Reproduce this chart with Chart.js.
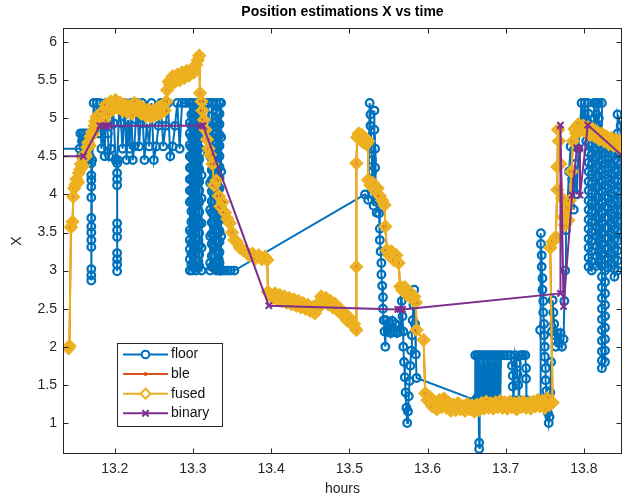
<!DOCTYPE html>
<html>
<head>
<meta charset="utf-8">
<script src="https://cdn.jsdelivr.net/npm/chart.js@4.4.1/dist/chart.umd.min.js"></script>
<style>
  html, body { margin: 0; padding: 0; background: #fff; }
  #wrap { width: 623px; height: 499px; }
</style>
</head>
<body>
<div id="wrap"><canvas id="chart" width="623" height="499"></canvas></div>
<script>
// values (hours, X)
const floorHours = [
  13.100, 13.155, 13.156, 13.157, 13.158, 13.159, 13.160, 13.161, 13.162, 13.163,
  13.164, 13.165, 13.166, 13.167, 13.168, 13.169, 13.170, 13.170, 13.170, 13.170,
  13.170, 13.170, 13.170, 13.170, 13.170, 13.170, 13.170, 13.170, 13.170, 13.171,
  13.173, 13.175, 13.177, 13.179, 13.181, 13.183, 13.185, 13.187, 13.189, 13.191,
  13.193, 13.195, 13.197, 13.199, 13.201, 13.203, 13.203, 13.203, 13.203, 13.203,
  13.203, 13.203, 13.203, 13.203, 13.203, 13.203, 13.204, 13.206, 13.208, 13.210,
  13.213, 13.215, 13.217, 13.219, 13.221, 13.223, 13.225, 13.227, 13.229, 13.231,
  13.233, 13.235, 13.238, 13.241, 13.244, 13.247, 13.250, 13.253, 13.256, 13.259,
  13.262, 13.265, 13.268, 13.271, 13.274, 13.277, 13.280, 13.283, 13.286, 13.291,
  13.296, 13.296, 13.296, 13.296, 13.296, 13.296, 13.296, 13.296, 13.296, 13.296,
  13.296, 13.296, 13.296, 13.296, 13.299, 13.300, 13.302, 13.302, 13.302, 13.302,
  13.302, 13.302, 13.302, 13.302, 13.305, 13.306, 13.306, 13.306, 13.307, 13.307,
  13.307, 13.307, 13.309, 13.310, 13.310, 13.311, 13.311, 13.311, 13.311, 13.311,
  13.298, 13.298, 13.298, 13.298, 13.298, 13.298, 13.298, 13.298,
  13.298, 13.298, 13.298, 13.298, 13.298, 13.298, 13.298, 13.298,
  13.304, 13.304, 13.304, 13.304, 13.304, 13.304, 13.304, 13.304,
  13.304, 13.304, 13.304, 13.304, 13.304, 13.304, 13.304, 13.304,
  13.308, 13.308, 13.308, 13.308, 13.308, 13.308, 13.308, 13.308,
  13.308, 13.308, 13.308, 13.308, 13.308, 13.308, 13.308, 13.308,
  13.315, 13.319, 13.322, 13.322, 13.322, 13.322, 13.322, 13.322, 13.322, 13.325,
  13.326, 13.326, 13.327, 13.327, 13.327, 13.328, 13.330, 13.331, 13.331, 13.332,
  13.332, 13.333, 13.333, 13.334, 13.336, 13.336, 13.336, 13.336, 13.336, 13.336,
  13.324, 13.324, 13.324, 13.324, 13.324, 13.324, 13.324, 13.324,
  13.324, 13.324, 13.324, 13.324, 13.324, 13.324, 13.324, 13.324,
  13.330, 13.330, 13.330, 13.330, 13.330, 13.330, 13.330, 13.330,
  13.330, 13.330, 13.330, 13.330, 13.330, 13.330, 13.330, 13.330,
  13.334, 13.334, 13.334, 13.334, 13.334, 13.334, 13.334, 13.334,
  13.334, 13.334, 13.334, 13.334, 13.334, 13.334, 13.334, 13.334,
  13.335,
  13.340, 13.344, 13.348, 13.353, 13.520, 13.524, 13.526, 13.527, 13.527, 13.528,
  13.528, 13.529, 13.529, 13.530, 13.530, 13.531, 13.532, 13.532, 13.533, 13.533,
  13.534, 13.535, 13.535, 13.537, 13.538, 13.539, 13.539, 13.540, 13.541, 13.541,
  13.542, 13.543, 13.543, 13.544, 13.545, 13.546, 13.547, 13.549, 13.551, 13.553,
  13.555, 13.557, 13.559, 13.561, 13.563, 13.565, 13.566, 13.567, 13.568, 13.569,
  13.569, 13.570, 13.571, 13.572, 13.573, 13.574, 13.575, 13.576, 13.577, 13.578,
  13.579, 13.580, 13.581, 13.582, 13.583, 13.584, 13.585, 13.586, 13.661, 13.661,
  13.663, 13.664, 13.665, 13.666, 13.666, 13.667, 13.667, 13.669, 13.670, 13.672,
  13.673, 13.675, 13.676, 13.678, 13.679, 13.681, 13.682, 13.684, 13.685, 13.687,
  13.688, 13.690, 13.691, 13.693, 13.694, 13.698, 13.702, 13.706, 13.708, 13.709,
  13.709, 13.710, 13.712, 13.714, 13.715, 13.716, 13.717, 13.719, 13.722, 13.725,
  13.726, 13.726, 13.727, 13.744, 13.744, 13.745, 13.745, 13.746, 13.746, 13.747,
  13.747, 13.748, 13.748, 13.749, 13.749, 13.750, 13.750, 13.751, 13.751, 13.752,
  13.753, 13.754, 13.755, 13.756, 13.757, 13.758, 13.759, 13.760, 13.761, 13.762,
  13.763, 13.764, 13.766, 13.768, 13.770, 13.772, 13.774, 13.775, 13.776, 13.777,
  13.779, 13.781, 13.783, 13.785, 13.787, 13.789, 13.791, 13.793, 13.795, 13.797,
  13.799, 13.801, 13.803, 13.805,
  13.806, 13.806, 13.806, 13.806, 13.806, 13.806, 13.806, 13.806, 13.806,
  13.806, 13.806, 13.806, 13.806, 13.806, 13.806, 13.806, 13.806,
  13.810, 13.810, 13.810, 13.810, 13.810, 13.810, 13.810,
  13.810, 13.810, 13.810, 13.810, 13.810, 13.810, 13.810,
  13.813, 13.813, 13.813,
  13.816, 13.816, 13.816, 13.816, 13.816, 13.816, 13.816, 13.816, 13.816,
  13.816, 13.816, 13.816, 13.816, 13.816, 13.816, 13.816, 13.816,
  13.819, 13.819, 13.819, 13.819, 13.819, 13.819, 13.819,
  13.819, 13.819, 13.819, 13.819, 13.819, 13.819, 13.819,
  13.823, 13.823, 13.823, 13.823, 13.823, 13.823, 13.823, 13.823,
  13.823, 13.823, 13.823, 13.823, 13.823, 13.823, 13.823, 13.823,
  13.823, 13.823, 13.823, 13.823, 13.823, 13.823, 13.823,
  13.827, 13.827, 13.827, 13.827, 13.827, 13.827, 13.827,
  13.827, 13.827, 13.827, 13.827, 13.827, 13.827, 13.827,
  13.827, 13.827, 13.827, 13.827, 13.827, 13.827, 13.827,
  13.831, 13.831, 13.831, 13.831, 13.831, 13.831, 13.831,
  13.831, 13.831, 13.831, 13.831, 13.831, 13.831,
  13.835, 13.835, 13.835, 13.835, 13.835, 13.835, 13.835,
  13.835, 13.835, 13.835, 13.835, 13.835, 13.835,
  13.839, 13.839, 13.839, 13.839, 13.839, 13.839, 13.839,
  13.839, 13.839, 13.839, 13.839, 13.839, 13.839, 13.839,
  13.843, 13.843, 13.843, 13.843, 13.843, 13.843, 13.843, 13.843,
  13.843, 13.843, 13.843, 13.843, 13.843, 13.843, 13.843,
  13.847, 13.847, 13.847, 13.847, 13.847, 13.847, 13.847, 13.847, 13.847, 13.847,
  13.852
];
const floorX = [
  4.60, 4.60, 4.80, 4.50, 4.70, 4.80, 4.45, 4.60, 4.80, 4.50,
  4.70, 4.45, 4.80, 4.60, 4.50, 4.80, 4.41, 4.25, 4.19, 4.10,
  3.96, 3.69, 3.58, 3.50, 3.40, 3.31, 3.02, 2.94, 2.87, 4.45,
  5.20, 4.90, 5.20, 4.80, 5.20, 4.60, 4.93, 4.50, 5.20, 4.80,
  4.50, 4.60, 5.20, 4.93, 4.45, 4.41, 4.28, 4.20, 4.12, 3.62,
  3.53, 3.44, 3.23, 3.15, 3.08, 2.99, 4.45, 5.20, 4.93, 4.60,
  5.20, 4.45, 4.98, 4.60, 5.20, 4.45, 4.63, 4.98, 5.20, 4.63,
  4.93, 5.20, 4.45, 4.93, 4.63, 5.20, 4.45, 4.63, 4.90, 5.20,
  4.63, 4.90, 5.20, 4.50, 4.63, 4.90, 5.20, 4.60, 5.20, 5.20,
  5.20, 4.94, 4.80, 4.65, 4.50, 4.35, 4.20, 4.05, 3.90, 3.53,
  3.40, 3.28, 3.15, 3.00, 3.00, 5.20, 4.85, 4.60, 4.35, 4.10,
  3.88, 3.55, 3.30, 3.05, 5.20, 4.70, 4.40, 4.15, 3.92, 3.65,
  3.40, 3.12, 5.20, 4.90, 4.55, 4.25, 3.95, 3.62, 3.30, 3.00,
  3.08, 3.22, 3.36, 3.50, 3.64, 3.78, 3.92, 4.06,
  4.20, 4.34, 4.48, 4.62, 4.76, 4.90, 5.05, 5.20,
  5.10, 4.96, 4.82, 4.68, 4.54, 4.40, 4.26, 4.12,
  3.98, 3.84, 3.70, 3.56, 3.42, 3.28, 3.14, 3.00,
  3.06, 3.21, 3.33, 3.49, 3.61, 3.77, 3.90, 4.05,
  4.17, 4.33, 4.46, 4.61, 4.74, 4.89, 5.02, 5.20,
  5.20, 5.20, 4.85, 4.50, 4.15, 3.80, 3.45, 3.10, 3.00, 5.20,
  4.70, 4.35, 4.00, 3.65, 3.30, 3.02, 5.20, 4.90, 4.55, 4.20,
  3.85, 3.50, 3.15, 3.00, 5.20, 4.75, 4.30, 3.90, 3.45, 3.00,
  3.05, 3.19, 3.35, 3.48, 3.63, 3.76, 3.91, 4.04,
  4.19, 4.32, 4.47, 4.60, 4.75, 4.88, 5.03, 5.20,
  5.08, 4.94, 4.80, 4.66, 4.52, 4.38, 4.24, 4.10,
  3.96, 3.82, 3.68, 3.54, 3.40, 3.26, 3.12, 3.00,
  3.10, 3.24, 3.38, 3.52, 3.66, 3.80, 3.94, 4.08,
  4.22, 4.36, 4.50, 4.64, 4.78, 4.92, 5.06, 5.20,
  3.00,
  3.00, 3.00, 3.00, 3.00, 4.00, 3.93, 5.20, 5.05, 4.90, 4.75,
  4.60, 4.45, 4.30, 4.15, 4.00, 3.85, 5.10, 4.85, 4.60, 4.35,
  4.10, 3.90, 3.76, 3.93, 3.75, 3.55, 3.40, 3.25, 3.10, 2.95,
  2.80, 2.65, 2.50, 2.35, 2.20, 2.00, 2.35, 2.20, 2.32, 2.18,
  2.34, 2.20, 2.30, 2.18, 2.28, 2.20, 2.79, 2.60, 2.40, 2.20,
  2.00, 1.80, 1.60, 1.40, 1.20, 1.00, 1.15, 1.35, 1.55, 1.75,
  1.95, 2.15, 2.35, 2.55, 2.75, 2.30, 1.90, 1.59, 1.30, 1.89,
  1.32, 1.89, 1.35, 0.74, 0.66, 1.30, 1.89, 1.30, 1.89, 1.30,
  1.89, 1.30, 1.89, 1.30, 1.89, 1.30, 1.89, 1.30, 1.89, 1.30,
  1.89, 1.30, 1.89, 1.30, 1.89, 1.89, 1.89, 1.89, 1.75, 1.62,
  1.48, 1.30, 1.89, 1.78, 1.64, 1.50, 1.30, 1.89, 1.89, 1.89,
  1.72, 1.58, 1.30, 1.30, 2.22, 3.49, 3.35, 3.20, 3.05, 2.90,
  2.75, 2.60, 2.45, 2.30, 2.15, 2.00, 1.87, 1.72, 1.56, 1.42,
  1.28, 1.13, 1.00, 1.08, 1.40, 1.80, 2.20, 2.61, 2.45, 2.30,
  2.15, 2.00, 2.18, 2.05, 2.18, 2.00, 2.10, 2.60, 3.00, 3.53,
  3.90, 4.30, 4.63, 4.20, 3.80, 4.40, 4.00, 4.60, 4.90, 5.20,
  4.95, 5.20, 4.70, 5.20,
  5.06, 4.93, 4.80, 4.67, 4.55, 4.42, 4.30, 4.17, 4.05,
  3.92, 3.80, 3.67, 3.55, 3.42, 3.30, 3.17, 3.05,
  3.00, 3.12, 3.25, 3.38, 3.50, 3.63, 3.76,
  3.88, 4.01, 4.14, 4.26, 4.39, 4.52, 4.65,
  4.80, 5.00, 5.20,
  5.20, 5.05, 4.90, 4.75, 4.62, 4.49, 4.36, 4.23, 4.10,
  3.97, 3.84, 3.71, 3.58, 3.45, 3.32, 3.19, 3.06,
  3.12, 3.26, 3.40, 3.54, 3.68, 3.82, 3.96,
  4.10, 4.24, 4.38, 4.52, 4.66, 5.00, 5.20,
  5.20, 4.60, 4.46, 4.32, 4.18, 4.04, 3.90, 3.76,
  3.62, 3.48, 3.34, 3.20, 3.06, 2.92, 2.78, 2.64,
  2.50, 2.36, 2.22, 2.08, 1.94, 1.82, 1.72,
  1.80, 1.95, 2.10, 2.25, 2.40, 2.55, 2.70,
  2.85, 3.00, 3.14, 3.28, 3.42, 3.56, 3.70,
  3.84, 3.98, 4.12, 4.26, 4.40, 4.54, 4.68,
  4.60, 4.47, 4.34, 4.21, 4.08, 3.95, 3.82,
  3.69, 3.56, 3.43, 3.30, 3.17, 3.04,
  3.10, 3.23, 3.36, 3.49, 3.62, 3.75, 3.88,
  4.01, 4.14, 4.27, 4.40, 4.53, 4.66,
  4.58, 4.45, 4.32, 4.19, 4.06, 3.93, 3.80,
  3.67, 3.54, 3.41, 3.28, 3.15, 3.02, 2.92,
  3.00, 3.13, 3.26, 3.39, 3.52, 3.65, 3.78, 3.91,
  4.04, 4.17, 4.30, 4.43, 4.56, 4.80, 5.05,
  4.90, 4.72, 4.55, 4.40, 4.25, 4.10, 3.95, 3.80, 3.65, 3.50,
  3.40
];

const fusedHours = [
  13.141, 13.142, 13.144, 13.146, 13.147, 13.148, 13.150, 13.151, 13.153, 13.154,
  13.156, 13.157, 13.159, 13.160, 13.162, 13.163, 13.165, 13.166, 13.168, 13.169,
  13.171, 13.172, 13.174, 13.175, 13.177, 13.180, 13.183, 13.186, 13.189, 13.192,
  13.195, 13.198, 13.201, 13.204, 13.207, 13.210, 13.213, 13.216, 13.219, 13.222,
  13.225, 13.228, 13.231, 13.234, 13.237, 13.240, 13.243, 13.246, 13.249, 13.252,
  13.255, 13.258, 13.261, 13.264, 13.266, 13.267, 13.269, 13.271, 13.274, 13.277,
  13.280, 13.283, 13.286, 13.289, 13.292, 13.295, 13.298, 13.301, 13.304, 13.306,
  13.308, 13.309, 13.311, 13.312, 13.314, 13.316, 13.318, 13.320, 13.322, 13.325,
  13.327, 13.330, 13.333, 13.335, 13.338, 13.341, 13.344, 13.347, 13.350, 13.353,
  13.356, 13.360, 13.364, 13.368, 13.372, 13.376, 13.380, 13.384, 13.388, 13.392,
  13.395, 13.396, 13.399, 13.402, 13.405, 13.408, 13.411, 13.414, 13.417, 13.420,
  13.423, 13.426, 13.429, 13.432, 13.435, 13.438, 13.441, 13.444, 13.447, 13.450,
  13.453, 13.456, 13.459, 13.461, 13.464, 13.467, 13.470, 13.473, 13.476, 13.479,
  13.482, 13.485, 13.488, 13.491, 13.494, 13.497, 13.500, 13.503, 13.506, 13.509,
  13.509, 13.509, 13.510, 13.512, 13.514, 13.516, 13.518, 13.520, 13.522, 13.524,
  13.524, 13.527, 13.530, 13.533, 13.536, 13.539, 13.542, 13.545, 13.546, 13.548,
  13.551, 13.554, 13.557, 13.560, 13.563, 13.565, 13.568, 13.571, 13.574, 13.577,
  13.580, 13.583, 13.585, 13.586, 13.595, 13.597, 13.600, 13.603, 13.606, 13.609,
  13.612, 13.615, 13.618, 13.621, 13.624, 13.627, 13.630, 13.633, 13.636, 13.639,
  13.642, 13.645, 13.648, 13.651, 13.654, 13.657, 13.660, 13.663, 13.666, 13.669,
  13.672, 13.675, 13.678, 13.681, 13.684, 13.687, 13.690, 13.693, 13.696, 13.699,
  13.702, 13.705, 13.708, 13.711, 13.714, 13.717, 13.720, 13.723, 13.726, 13.729,
  13.732, 13.735, 13.738, 13.741, 13.744, 13.747, 13.750, 13.753, 13.756, 13.760,
  13.757, 13.760, 13.764, 13.766, 13.766, 13.767, 13.768, 13.770, 13.772, 13.774,
  13.776, 13.778, 13.780, 13.782, 13.784, 13.786, 13.788, 13.790, 13.793, 13.796,
  13.799, 13.802, 13.805, 13.808, 13.811, 13.814, 13.817, 13.820, 13.823, 13.826,
  13.829, 13.832, 13.835, 13.838, 13.841, 13.844, 13.847, 13.850
];
const fusedX = [
  1.98, 2.01, 3.57, 3.64, 3.97, 4.08, 4.13, 4.20, 4.16, 4.28,
  4.33, 4.40, 4.37, 4.48, 4.53, 4.50, 4.62, 4.68, 4.64, 4.76,
  4.82, 4.79, 4.90, 4.96, 5.02, 4.93, 5.08, 4.97, 5.18, 5.07,
  5.22, 5.12, 5.24, 5.13, 5.20, 5.10, 5.18, 5.08, 5.16, 5.06,
  5.20, 5.11, 5.17, 5.06, 5.13, 5.03, 5.11, 5.02, 5.10, 5.04,
  5.14, 5.06, 5.16, 5.10, 5.22, 5.37, 5.48, 5.44, 5.55, 5.48,
  5.57, 5.50, 5.60, 5.53, 5.62, 5.56, 5.64, 5.60, 5.70, 5.76,
  5.82, 5.33, 5.22, 5.10, 4.98, 4.85, 4.72, 4.60, 4.52, 4.40,
  4.12, 4.18, 3.98, 3.84, 3.90, 3.76, 3.68, 3.62, 3.50, 3.40,
  3.38, 3.30, 3.27, 3.24, 3.20, 3.22, 3.16, 3.20, 3.15, 3.18,
  3.14, 2.72, 2.68, 2.64, 2.70, 2.62, 2.68, 2.60, 2.66, 2.58,
  2.64, 2.56, 2.62, 2.54, 2.60, 2.52, 2.57, 2.50, 2.55, 2.47,
  2.52, 2.44, 2.50, 2.58, 2.66, 2.58, 2.64, 2.56, 2.60, 2.52,
  2.56, 2.48, 2.50, 2.42, 2.44, 2.35, 2.38, 2.30, 2.30, 2.22,
  3.05, 4.41, 4.75, 4.80, 4.72, 4.78, 4.68, 4.74, 4.66, 4.70,
  4.19, 4.12, 4.15, 4.05, 4.08, 3.98, 3.92, 3.86, 3.58, 3.27,
  3.20, 3.25, 3.14, 3.20, 3.10, 2.79, 2.74, 2.78, 2.68, 2.72,
  2.64, 2.66, 2.58, 2.22, 2.09, 1.39, 1.30, 1.34, 1.22, 1.28,
  1.18, 1.30, 1.21, 1.32, 1.20, 1.27, 1.16, 1.24, 1.17, 1.26,
  1.18, 1.22, 1.16, 1.25, 1.18, 1.23, 1.15, 1.24, 1.17, 1.26,
  1.19, 1.28, 1.20, 1.26, 1.19, 1.27, 1.21, 1.29, 1.20, 1.27,
  1.19, 1.28, 1.21, 1.26, 1.18, 1.27, 1.21, 1.28, 1.20, 1.26,
  1.19, 1.28, 1.22, 1.30, 1.22, 1.29, 1.20, 1.32, 1.24, 1.27,
  3.30, 3.38, 3.44, 4.06, 4.36, 4.85, 4.70, 4.40, 3.95, 3.70,
  3.60, 3.82, 3.66, 3.92, 4.30, 4.70, 4.86, 4.80, 4.92, 4.84,
  4.90, 4.82, 4.88, 4.78, 4.86, 4.76, 4.82, 4.72, 4.80, 4.70,
  4.76, 4.66, 4.74, 4.64, 4.72, 4.62, 4.70, 4.60
];

// ble lies underneath fused in the picture, same readings
const bleHours = fusedHours.slice();
const bleX = fusedX.slice();

const binaryHours = [
  13.120, 13.160, 13.181, 13.185, 13.189, 13.193, 13.310, 13.313, 13.397, 13.562,
  13.565, 13.568, 13.770, 13.770, 13.774, 13.785, 13.791, 13.795, 13.795, 13.805,
  13.851
];
const binaryX = [
  4.50, 4.50, 4.90, 4.90, 4.90, 4.90, 4.90, 4.90, 2.54, 2.49,
  2.49, 2.49, 2.70, 4.91, 2.53, 3.99, 4.61, 4.61, 3.99, 4.91,
  4.49
];

const seriesNames = ['floor', 'ble', 'fused', 'binary'];
const xTicks = [13.2, 13.3, 13.4, 13.5, 13.6, 13.7, 13.8];
const xTickLabels = ['13.2', '13.3', '13.4', '13.5', '13.6', '13.7', '13.8'];
const yTicks = [1, 1.5, 2, 2.5, 3, 3.5, 4, 4.5, 5, 5.5, 6];
const yTickLabels = ['1', '1.5', '2', '2.5', '3', '3.5', '4', '4.5', '5', '5.5', '6'];
const titleText = 'Position estimations X vs time';

const fontFamily = "'Liberation Sans', Arial, Helvetica, sans-serif";
const axisColor = '#262626';

function pairs(xs, ys) {
  return xs.map((x, i) => ({ x: x, y: ys[i] }));
}

// MATLAB-like box with inward ticks on all four sides, title over the axes
const boxPlugin = {
  id: 'box',
  afterDatasetsDraw(chart) {
    const { ctx, chartArea: a, scales } = chart;
    ctx.save();
    ctx.strokeStyle = axisColor;
    ctx.lineWidth = 1;
    ctx.strokeRect(a.left + 0.5, a.top + 0.5, a.right - a.left - 1, a.bottom - a.top - 1);
    ctx.beginPath();
    xTicks.forEach(v => {
      const px = Math.round(scales.x.getPixelForValue(v)) + 0.5;
      ctx.moveTo(px, a.bottom); ctx.lineTo(px, a.bottom - 5.5);
      ctx.moveTo(px, a.top); ctx.lineTo(px, a.top + 5.5);
    });
    yTicks.forEach(v => {
      const py = Math.round(scales.y.getPixelForValue(v)) + 0.5;
      ctx.moveTo(a.left, py); ctx.lineTo(a.left + 5.5, py);
      ctx.moveTo(a.right, py); ctx.lineTo(a.right - 5.5, py);
    });
    ctx.stroke();

    ctx.fillStyle = '#000';
    ctx.font = 'bold 14px ' + fontFamily;
    ctx.textAlign = 'center';
    ctx.textBaseline = 'middle';
    ctx.fillText(titleText, (a.left + a.right) / 2, 12.5);
    ctx.restore();
  }
};

// legend box inside the axes, lower left
const legendPlugin = {
  id: 'insideLegend',
  afterDraw(chart) {
    const { ctx, chartArea: a } = chart;
    const bx = a.left + 54, by = a.bottom - 111, bw = 105, bh = 83;
    ctx.save();
    ctx.fillStyle = '#ffffff';
    ctx.fillRect(bx, by, bw, bh);
    ctx.strokeStyle = axisColor;
    ctx.lineWidth = 1;
    ctx.strokeRect(bx + 0.5, by + 0.5, bw, bh);
    chart.data.datasets.forEach((ds, i) => {
      const yy = by + 11.5 + i * 19.6;
      ctx.strokeStyle = ds.borderColor;
      ctx.lineWidth = 2;
      ctx.beginPath();
      ctx.moveTo(bx + 6, yy);
      ctx.lineTo(bx + 51, yy);
      ctx.stroke();
      const hollow = ds.pointStyle === 'rectRot' || (ds.pointStyle === 'circle' && ds.pointBorderWidth > 0);
      ctx.fillStyle = hollow ? '#ffffff' : ds.pointBackgroundColor;
      ctx.strokeStyle = ds.borderColor;
      Chart.helpers.drawPoint(ctx, {
        pointStyle: ds.pointStyle,
        radius: Math.min(ds.pointRadius, 5),
        rotation: 0,
        borderWidth: Math.min(ds.pointBorderWidth, 1.8)
      }, bx + 28.5, yy);
      ctx.fillStyle = '#111';
      ctx.font = '14px ' + fontFamily;
      ctx.textBaseline = 'middle';
      ctx.textAlign = 'left';
      ctx.fillText(ds.label, bx + 54, yy);
    });
    ctx.restore();
  }
};

new Chart(document.getElementById('chart'), {
  type: 'scatter',
  data: {
    datasets: [
      {
        label: seriesNames[0],
        data: pairs(floorHours, floorX),
        showLine: true,
        borderColor: '#0072BD',
        borderWidth: 2,
        pointStyle: 'circle',
        pointRadius: 3.8,
        pointBorderWidth: 2.3,
        pointBackgroundColor: 'rgba(255,255,255,0)',
        pointBorderColor: '#0072BD',
        order: 3
      },
      {
        label: seriesNames[1],
        data: pairs(bleHours, bleX),
        showLine: true,
        borderColor: '#D95319',
        borderWidth: 2,
        pointStyle: 'circle',
        pointRadius: 2,
        pointBorderWidth: 0,
        pointBackgroundColor: '#D95319',
        pointBorderColor: '#D95319',
        order: 2
      },
      {
        label: seriesNames[2],
        data: pairs(fusedHours, fusedX),
        showLine: true,
        borderColor: '#EDB120',
        borderWidth: 2,
        pointStyle: 'rectRot',
        pointRadius: 5,
        pointBorderWidth: 3.2,
        pointBackgroundColor: 'rgba(255,255,255,0)',
        pointBorderColor: '#EDB120',
        order: 1
      },
      {
        label: seriesNames[3],
        data: pairs(binaryHours, binaryX),
        showLine: true,
        borderColor: '#7E2F8E',
        borderWidth: 2,
        pointStyle: 'crossRot',
        pointRadius: 4.5,
        pointBorderWidth: 2,
        pointBackgroundColor: '#7E2F8E',
        pointBorderColor: '#7E2F8E',
        order: 0
      }
    ]
  },
  options: {
    responsive: false,
    animation: false,
    layout: { autoPadding: false, padding: { left: 0, right: 1, top: 28, bottom: 0 } },
    plugins: {
      legend: { display: false },
      tooltip: { enabled: false },
      title: { display: false }
    },
    scales: {
      x: {
        type: 'linear',
        min: 13.1338,
        max: 13.8487,
        grid: { display: false, drawTicks: false },
        border: { display: false },
        ticks: {
          padding: 7,
          color: axisColor,
          autoSkip: false,
          maxRotation: 0,
          font: { family: fontFamily, size: 14 },
          callback: (v, i) => xTickLabels[i]
        },
        title: {
          display: true,
          text: 'hours',
          color: axisColor,
          font: { family: fontFamily, size: 14 },
          padding: { top: 0, bottom: 1 }
        },
        afterBuildTicks: s => { s.ticks = xTicks.map(v => ({ value: v })); },
        afterFit: s => { s.height = 45; }
      },
      y: {
        type: 'linear',
        min: 0.593,
        max: 6.184,
        grid: { display: false, drawTicks: false },
        border: { display: false },
        ticks: {
          padding: 6,
          color: axisColor,
          autoSkip: false,
          font: { family: fontFamily, size: 14 },
          callback: (v, i) => yTickLabels[i]
        },
        title: {
          display: true,
          text: 'X',
          color: axisColor,
          font: { family: fontFamily, size: 14 },
          padding: { top: 8.6, bottom: 0 }
        },
        afterBuildTicks: s => { s.ticks = yTicks.map(v => ({ value: v })); },
        afterFit: s => { s.width = 63; }
      }
    }
  },
  plugins: [boxPlugin, legendPlugin]
});
</script>
</body>
</html>
